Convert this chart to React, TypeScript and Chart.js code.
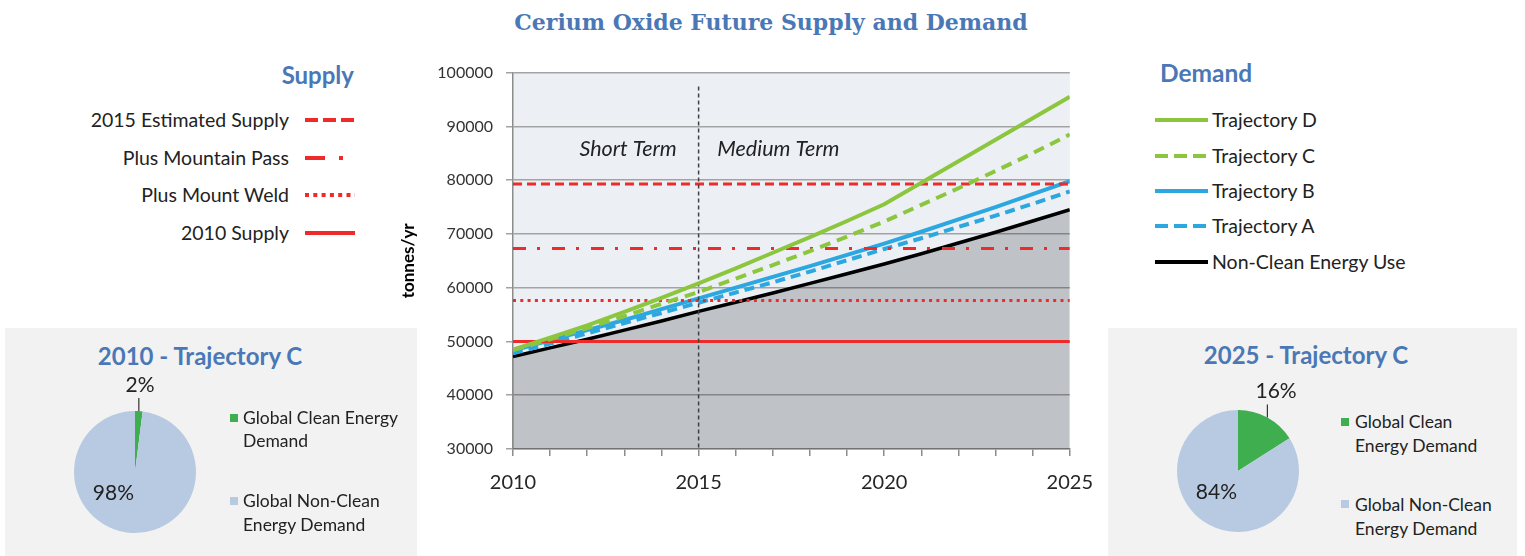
import React, { useEffect, useRef } from 'react';
import { Chart, registerables } from 'chart.js';

Chart.register(...registerables);

// ---------- DATA ----------
const years = [2010, 2011, 2012, 2013, 2014, 2015, 2016, 2017, 2018, 2019, 2020, 2021, 2022, 2023, 2024, 2025];
const trajectoryD = [48500, 50700, 53000, 55500, 58100, 60800, 63600, 66500, 69400, 72400, 75500, 79500, 83500, 87500, 91500, 95500];
const trajectoryC = [48400, 50400, 52500, 54700, 57000, 59200, 61700, 64200, 66800, 69500, 72300, 75400, 78500, 81700, 85000, 88500];
const trajectoryB = [48300, 50200, 52100, 54000, 56000, 58000, 60000, 62000, 64000, 66100, 68200, 70400, 72700, 75000, 77400, 79800];
const trajectoryA = [47800, 49600, 51500, 53400, 55300, 57200, 59100, 61000, 63000, 65100, 67200, 69200, 71300, 73400, 75600, 77900];
const nonCleanUse = [47200, 48800, 50400, 52100, 53800, 55600, 57300, 59000, 60800, 62600, 64400, 66300, 68300, 70300, 72400, 74500];

const supplyLabels = ['2015 Estimated Supply', 'Plus Mountain Pass', 'Plus Mount Weld', '2010 Supply'];
const supplyValues = [79300, 67300, 57600, 50000];
const demandLabels = ['Trajectory D', 'Trajectory C', 'Trajectory B', 'Trajectory A', 'Non-Clean Energy Use'];

const yMin = 30000;
const yMax = 100000;
const yStep = 10000;
const xTickLabels = [2010, 2015, 2020, 2025];
const termDividerYear = 2015;
const termDividerTop = 97400;
const termLabels = ['Short Term', 'Medium Term'];
const termLabelYears = [2013.1, 2017.15];
const termLabelValue = 85800;

const pieLabels = ['Global Clean Energy Demand', 'Global Non-Clean Energy Demand'];
const pie2010Values = [2, 98];
const pie2025Values = [16, 84];

// ---------- STYLE ----------
const GREEN = '#8CC63F';
const BLUE = '#2CA7E0';
const RED = '#EE2A2A';
const HEAD = '#4A78B6';
const TXT = '#222222';
const FONT = 'Lato, "Open Sans", sans-serif';
const PIE_GREEN = '#3EAE4F';
const PIE_BLUE = '#B8CAE2';

const plotBg = {
  id: 'plotBg',
  beforeDraw(chart: any) {
    const { ctx, chartArea } = chart;
    ctx.save();
    ctx.fillStyle = '#ECF0F5';
    ctx.fillRect(chartArea.left, chartArea.top, chartArea.right - chartArea.left, chartArea.bottom - chartArea.top);
    ctx.restore();
  },
};

const termText = {
  id: 'termText',
  afterDatasetsDraw(chart: any) {
    const { ctx, scales } = chart;
    ctx.save();
    ctx.font = `italic 21.5px ${FONT}`;
    ctx.fillStyle = '#222';
    ctx.textAlign = 'center';
    ctx.textBaseline = 'middle';
    termLabels.forEach((t, i) => {
      ctx.fillText(t, scales.x.getPixelForValue(termLabelYears[i]), scales.y.getPixelForValue(termLabelValue));
    });
    ctx.restore();
  },
};

function MainChart() {
  const ref = useRef<HTMLCanvasElement>(null);
  useEffect(() => {
    const pts = (vals: number[]) => years.map((x, i) => ({ x, y: vals[i] }));
    const flat = (v: number) => [{ x: years[0], y: v }, { x: years[years.length - 1], y: v }];
    const base = { pointRadius: 0, tension: 0, fill: false, borderCapStyle: 'butt' as const };
    const chart = new Chart(ref.current!, {
      type: 'line',
      data: {
        datasets: [
          { ...base, label: demandLabels[0], data: pts(trajectoryD), borderColor: GREEN, borderWidth: 4 },
          { ...base, label: demandLabels[1], data: pts(trajectoryC), borderColor: GREEN, borderWidth: 4, borderDash: [11, 7] },
          { ...base, label: 'divider', data: [{ x: termDividerYear, y: termDividerTop }, { x: termDividerYear, y: yMin }], borderColor: '#404040', borderWidth: 1.5, borderDash: [4, 3] },
          { ...base, label: supplyLabels[0], data: flat(supplyValues[0]), borderColor: RED, borderWidth: 3, borderDash: [9, 5] },
          { ...base, label: supplyLabels[1], data: flat(supplyValues[1]), borderColor: RED, borderWidth: 3, borderDash: [13, 11, 3, 12] },
          { ...base, label: supplyLabels[2], data: flat(supplyValues[2]), borderColor: RED, borderWidth: 3, borderDash: [3, 4.3] },
          { ...base, label: supplyLabels[3], data: flat(supplyValues[3]), borderColor: RED, borderWidth: 3 },
          { ...base, label: demandLabels[2], data: pts(trajectoryB), borderColor: BLUE, borderWidth: 4 },
          { ...base, label: demandLabels[3], data: pts(trajectoryA), borderColor: BLUE, borderWidth: 4, borderDash: [10, 6] },
          { ...base, label: demandLabels[4], data: pts(nonCleanUse), borderColor: '#000000', borderWidth: 3.5 },
          { ...base, label: 'area', data: pts(nonCleanUse), borderWidth: 0, borderColor: 'rgba(0,0,0,0)', backgroundColor: 'rgba(0,0,0,0.19)', fill: 'start' },
        ],
      },
      options: {
        responsive: false,
        animation: false,
        events: [],
        layout: { padding: 0 },
        plugins: { legend: { display: false }, tooltip: { enabled: false } },
        scales: {
          x: {
            type: 'linear',
            min: years[0],
            max: years[years.length - 1],
            afterFit(s: any) { s.height = 56; },
            border: { display: true, color: '#8c8c8c', width: 1.5 },
            grid: { drawOnChartArea: false, drawTicks: true, tickLength: 7, color: '#8c8c8c', lineWidth: 1.5 },
            ticks: {
              stepSize: 1,
              autoSkip: false,
              maxRotation: 0,
              padding: 15,
              color: '#262626',
              font: { family: FONT, size: 20 },
              callback: (v: any) => (xTickLabels.includes(Number(v)) ? String(v) : ''),
            },
          },
          y: {
            min: yMin,
            max: yMax,
            afterFit(s: any) { s.width = 133; },
            border: { display: true, color: '#8c8c8c', width: 1.5 },
            grid: { color: '#a3a3a3', lineWidth: 1.5, tickLength: 7 },
            ticks: {
              stepSize: yStep,
              padding: 13,
              color: '#333333',
              font: { family: FONT, size: 16 },
              callback: (v: any) => String(v),
            },
            title: {
              display: true,
              text: 'tonnes/yr',
              color: '#000',
              font: { family: FONT, size: 17, weight: 'bold' },
              padding: { top: 18, bottom: 0 },
            },
          },
        },
      } as any,
      plugins: [plotBg, termText],
    });
    return () => chart.destroy();
  }, []);
  return <canvas ref={ref} width={728} height={455} style={{ position: 'absolute', left: 380, top: 50 }} />;
}

const pieLabelPlugin = {
  id: 'pieLabels',
  afterDraw(chart: any) {
    const { ctx } = chart;
    const meta = chart.getDatasetMeta(0);
    const values: number[] = chart.data.datasets[0].data;
    const total = values.reduce((a, b) => a + b, 0);
    ctx.save();
    ctx.font = `21px ${FONT}`;
    ctx.fillStyle = TXT;
    ctx.textAlign = 'center';
    ctx.textBaseline = 'middle';
    meta.data.forEach((arc: any, i: number) => {
      const p = arc.getProps(['x', 'y', 'startAngle', 'endAngle', 'outerRadius'], true);
      const frac = values[i] / total;
      const label = Math.round(frac * 100) + '%';
      if (frac < 0.25) {
        const mid = (p.startAngle + p.endAngle) / 2;
        const ex = p.x + Math.cos(mid) * p.outerRadius;
        const ey = p.y + Math.sin(mid) * p.outerRadius;
        ctx.strokeStyle = '#333';
        ctx.lineWidth = 1.2;
        ctx.beginPath();
        ctx.moveTo(ex, ey);
        ctx.lineTo(ex, ey - 13);
        ctx.stroke();
        const fromTop = mid + Math.PI / 2;
        ctx.fillText(label, ex + 18 * Math.sin(fromTop), ey - 26);
      } else {
        const a = (3 * Math.PI) / 4;
        ctx.fillText(label, p.x + Math.cos(a) * p.outerRadius * 0.5, p.y + Math.sin(a) * p.outerRadius * 0.5);
      }
    });
    ctx.restore();
  },
};

function PieChart({ values, left, top }: { values: number[]; left: number; top: number }) {
  const ref = useRef<HTMLCanvasElement>(null);
  useEffect(() => {
    const chart = new Chart(ref.current!, {
      type: 'pie',
      data: {
        labels: pieLabels,
        datasets: [{ data: values, backgroundColor: [PIE_GREEN, PIE_BLUE], borderWidth: 0 }],
      },
      options: {
        responsive: false,
        animation: false,
        events: [],
        layout: { padding: 39 },
        plugins: { legend: { display: false }, tooltip: { enabled: false } },
      } as any,
      plugins: [pieLabelPlugin],
    });
    return () => chart.destroy();
  }, []);
  return <canvas ref={ref} width={200} height={200} style={{ position: 'absolute', left, top }} />;
}

function T({ x, y, children, size = 18, align = 'left', w = 400, bold = false, color = TXT, family = FONT }: any) {
  let left = x;
  if (align === 'right') left = x - w;
  if (align === 'center') left = x - w / 2;
  return (
    <div
      style={{
        position: 'absolute',
        left,
        top: y - size / 2,
        width: w,
        height: size,
        lineHeight: `${size}px`,
        fontSize: size,
        fontFamily: family,
        fontWeight: bold ? 700 : 400,
        color,
        textAlign: align,
        whiteSpace: 'nowrap',
      }}
    >
      {children}
    </div>
  );
}

function Sample({ x, y, w, color, width = 4, dash }: any) {
  return (
    <svg style={{ position: 'absolute', left: x, top: y - 4 }} width={w} height={8}>
      <line x1={0} y1={4} x2={w} y2={4} stroke={color} strokeWidth={width} strokeDasharray={dash} />
    </svg>
  );
}

function Square({ x, y, color }: any) {
  return <div style={{ position: 'absolute', left: x, top: y - 4, width: 8, height: 8, background: color }} />;
}

export default function App() {
  const supplyRows = [120, 158, 195, 233];
  const supplyDashes = ['13 5', '20 14 4 100', '4 4.3', undefined];
  const demandRows = [120, 156, 191, 226, 262];
  const demandStyles = [
    { color: GREEN, dash: undefined },
    { color: GREEN, dash: '13 6' },
    { color: BLUE, dash: undefined },
    { color: BLUE, dash: '13 6' },
    { color: '#000', dash: undefined },
  ];
  return (
    <div style={{ position: 'absolute', left: 0, top: 0, width: 1525, height: 556, background: '#fff', overflow: 'hidden' }}>
      <T x={771} y={22} size={22} w={800} align="center" bold color={HEAD} family='"DejaVu Serif", serif'>
        Cerium Oxide Future Supply and Demand
      </T>

      {/* Supply legend */}
      <T x={354} y={75} size={24} w={200} align="right" bold color={HEAD}>Supply</T>
      {supplyLabels.map((l, i) => (
        <React.Fragment key={l}>
          <T x={289} y={supplyRows[i]} size={19.5} w={280} align="right">{l}</T>
          <Sample x={305} y={supplyRows[i]} w={50} color={RED} width={4} dash={supplyDashes[i]} />
        </React.Fragment>
      ))}

      {/* Demand legend */}
      <T x={1160} y={73} size={24.5} w={200} bold color={HEAD}>Demand</T>
      {demandLabels.map((l, i) => (
        <React.Fragment key={l}>
          <Sample x={1155} y={demandRows[i]} w={53} color={demandStyles[i].color} width={4} dash={demandStyles[i].dash} />
          <T x={1212} y={demandRows[i]} size={19.5} w={280}>{l}</T>
        </React.Fragment>
      ))}

      {/* Pie panels */}
      <div style={{ position: 'absolute', left: 5, top: 328, width: 412, height: 228, background: '#F2F2F2' }} />
      <div style={{ position: 'absolute', left: 1108, top: 328, width: 409, height: 228, background: '#F2F2F2' }} />

      <T x={200} y={356} size={24} w={300} align="center" bold color={HEAD}>2010 - Trajectory C</T>
      <PieChart values={pie2010Values} left={35} top={372} />
      <Square x={230} y={418} color={PIE_GREEN} />
      <T x={243} y={418} size={17.5} w={175}>Global Clean Energy</T>
      <T x={243} y={441} size={17.5} w={175}>Demand</T>
      <Square x={230} y={501} color={PIE_BLUE} />
      <T x={243} y={501} size={17.5} w={175}>Global Non-Clean</T>
      <T x={243} y={525} size={17.5} w={175}>Energy Demand</T>

      <T x={1306} y={355} size={24} w={300} align="center" bold color={HEAD}>2025 - Trajectory C</T>
      <PieChart values={pie2025Values} left={1138} top={371} />
      <Square x={1341} y={422} color={PIE_GREEN} />
      <T x={1355} y={422} size={17.5} w={160}>Global Clean</T>
      <T x={1355} y={446} size={17.5} w={160}>Energy Demand</T>
      <Square x={1341} y={504} color={PIE_BLUE} />
      <T x={1355} y={505} size={17.5} w={160}>Global Non-Clean</T>
      <T x={1355} y={529} size={17.5} w={160}>Energy Demand</T>

      <MainChart />
    </div>
  );
}
